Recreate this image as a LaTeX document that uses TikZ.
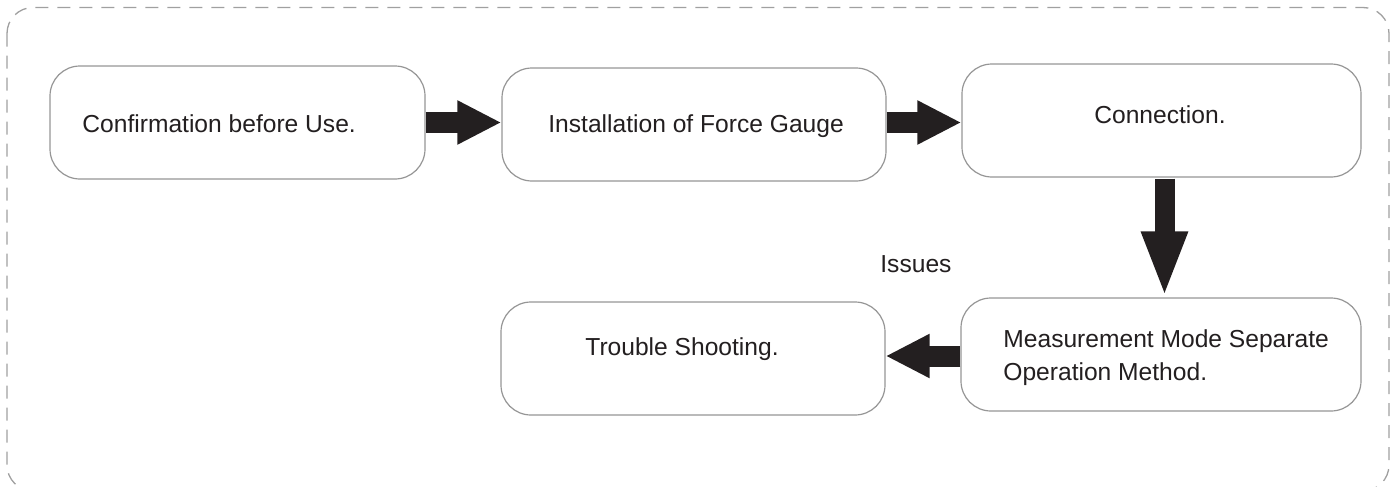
\documentclass[tikz,border=0pt]{standalone}
\usepackage{fontspec}
\setmainfont{Liberation Sans}
\usetikzlibrary{arrows.meta,calc}
\definecolor{ink}{HTML}{231F20}
\definecolor{boxline}{RGB}{150,150,150}
\definecolor{dashline}{RGB}{160,160,160}
\begin{document}
\begin{tikzpicture}[x=0.5pt,y=-0.5pt,
  stepbox/.style={draw=boxline,line width=0.6pt,rounded corners=15pt,
    minimum height=56.5pt,inner sep=0pt,fill=white},
  label/.style={inner sep=0pt,text=ink,font=\fontsize{12.3pt}{16.5pt}\selectfont},
  blockarrow/.style={draw=ink,line width=10.5pt,
    -{Triangle[length=22pt,width=20.5pt,fill=ink]}},
  blockarrowlong/.style={draw=ink,line width=10pt,
    -{Triangle[length=33pt,width=21pt,fill=ink]}}]
\useasboundingbox (0,0) rectangle (1394,487);
% outer dashed frame
\draw[dashline,line width=0.65pt,dash pattern=on 6.5pt off 4.5pt,rounded corners=13pt]
  (7,7.5) rectangle (1389,491);
% boxes
\node[stepbox,minimum width=187.5pt] (b1) at (237.5,122.5) {};
\node[stepbox,minimum width=192pt]   (b2) at (694,124.5) {};
\node[stepbox,minimum width=199.5pt] (b3) at (1161.5,120.5) {};
\node[stepbox,minimum width=200pt]   (b4) at (1161,354.5) {};
\node[stepbox,minimum width=192pt]   (b5) at (693,358.5) {};
% texts
\node[label,anchor=base west] (t1) at (82,132) {Confirmation before Use.};
\node[label,anchor=base west] (t2) at (548,132) {Installation of Force Gauge};
\node[label,anchor=base] (t3) at (1160,123) {Connection.};
\node[label,anchor=west,align=left] (t4) at (1003,358) {Measurement Mode Separate\\Operation Method.};
\node[label,anchor=base west] (t5) at (585,355) {Trouble Shooting.};
\node[label,anchor=base west] (t6) at (880,272) {Issues};
% arrows
\coordinate (a2s) at ($(b2.east)+(0,-2)$);
\coordinate (a3s) at ($(b3.south)+(3,1)$);
\coordinate (a4s) at ($(b4.west)+(0,1.5)$);
\draw[blockarrow] (b1.east) -- (b1.east -| b2.west);
\draw[blockarrow] (a2s) -- (a2s -| b3.west);
\draw[blockarrowlong] (a3s) -- (a3s |- b4.north);
\draw[blockarrow] (a4s) -- (a4s -| b5.east);
\end{tikzpicture}
\end{document}
